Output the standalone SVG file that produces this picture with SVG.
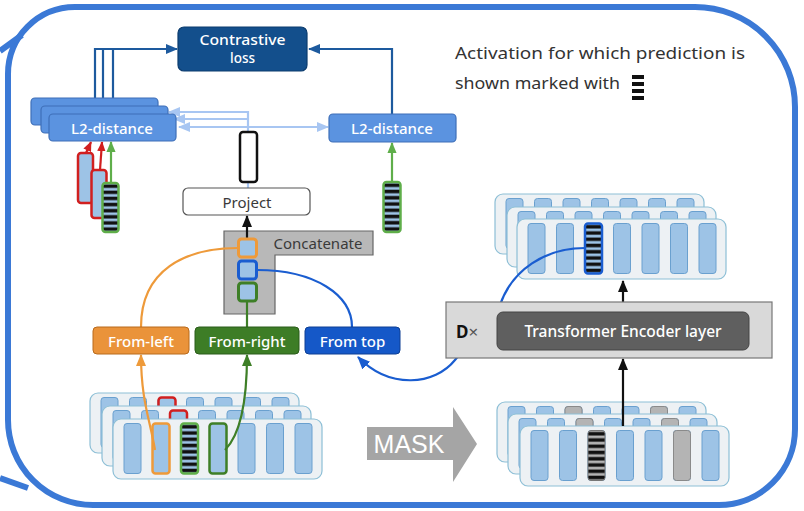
<svg xmlns="http://www.w3.org/2000/svg" xmlns:xlink="http://www.w3.org/1999/xlink" width="804" height="511" viewBox="0 0 804 511">
<style>
text{font-family:"Noto Sans","Liberation Sans",sans-serif;}
.wt{fill:#fff;font-size:15px;font-weight:500;text-anchor:middle;dominant-baseline:central;}
.dt{fill:#3a3a3a;font-size:15px;text-anchor:middle;dominant-baseline:central;}
.card{fill:#edf1f4;stroke:#8dbfd6;stroke-width:1.2;}
.bar{fill:#9dc3e6;stroke:#6aa0cf;stroke-width:1;}
.gbar{fill:#b4b4b4;stroke:#8a8a8a;stroke-width:1;}
.l2{fill:#5b93e0;stroke:#3e6fb8;stroke-width:1.2;}
.sq{fill:#9dc3e6;stroke-width:3;}
.c{fill:none;stroke-width:2.2;}
</style>
<defs>
<marker id="mDB" viewBox="0 0 12 10" refX="11" refY="5" markerWidth="12" markerHeight="10" markerUnits="userSpaceOnUse" orient="auto"><path d="M0,0L12,5L0,10z" fill="#1d5a9e"/></marker>
<marker id="mLB" viewBox="0 0 12 10" refX="11" refY="5" markerWidth="12" markerHeight="10" markerUnits="userSpaceOnUse" orient="auto"><path d="M0,0L12,5L0,10z" fill="#a8c6f2"/></marker>
<marker id="mK" viewBox="0 0 12 10" refX="11" refY="5" markerWidth="12" markerHeight="10" markerUnits="userSpaceOnUse" orient="auto"><path d="M0,0L12,5L0,10z" fill="#111"/></marker>
<marker id="mO" viewBox="0 0 12 10" refX="11" refY="5" markerWidth="12" markerHeight="10" markerUnits="userSpaceOnUse" orient="auto"><path d="M0,0L12,5L0,10z" fill="#ee9a3a"/></marker>
<marker id="mG" viewBox="0 0 12 10" refX="11" refY="5" markerWidth="12" markerHeight="10" markerUnits="userSpaceOnUse" orient="auto"><path d="M0,0L12,5L0,10z" fill="#3e7f27"/></marker>
<marker id="mLG" viewBox="0 0 12 10" refX="11" refY="5" markerWidth="11" markerHeight="10" markerUnits="userSpaceOnUse" orient="auto"><path d="M0,0L12,5L0,10z" fill="#5fae4a"/></marker>
<marker id="mR" viewBox="0 0 12 10" refX="11" refY="5" markerWidth="10" markerHeight="9" markerUnits="userSpaceOnUse" orient="auto"><path d="M0,0L12,5L0,10z" fill="#d11f1f"/></marker>
<marker id="mB" viewBox="0 0 12 10" refX="11" refY="5" markerWidth="13" markerHeight="11" markerUnits="userSpaceOnUse" orient="auto"><path d="M0,0L12,5L0,10z" fill="#1a5dd0"/></marker>
<pattern id="hatchB" patternUnits="objectBoundingBox" width="1" height="0.125" patternContentUnits="objectBoundingBox">
<rect width="1" height="0.125" fill="#9dc3e6"/><rect y="0.03" width="1" height="0.07" fill="#111"/>
</pattern>
<pattern id="hatchG" patternUnits="objectBoundingBox" width="1" height="0.125" patternContentUnits="objectBoundingBox">
<rect width="1" height="0.125" fill="#b4b4b4"/><rect y="0.03" width="1" height="0.07" fill="#111"/>
</pattern>
<g id="card">
<rect class="card" x="0" y="0" width="209" height="60" rx="8"/>
<rect class="bar" x="11" y="4.5" width="17" height="50" rx="3"/>
<rect class="bar" x="39.5" y="4.5" width="17" height="50" rx="3"/>
<rect class="bar" x="68" y="4.5" width="17" height="50" rx="3"/>
<rect class="bar" x="96.5" y="4.5" width="17" height="50" rx="3"/>
<rect class="bar" x="125" y="4.5" width="17" height="50" rx="3"/>
<rect class="bar" x="153.5" y="4.5" width="17" height="50" rx="3"/>
<rect class="bar" x="182" y="4.5" width="17" height="50" rx="3"/>
</g>
</defs>
<rect width="804" height="511" fill="#fff"/>

<g id="frame">
<path d="M75,7H695A100,100 0 0 1 795,107V429A76,76 0 0 1 719,505H93A85,85 0 0 1 8,420V74A67,67 0 0 1 75,7Z" fill="none" stroke="#3b79d6" stroke-width="6"/>
<line x1="0" y1="51" x2="22" y2="35" stroke="#3b79d6" stroke-width="6"/>
<line x1="0" y1="478" x2="28" y2="488" stroke="#3b79d6" stroke-width="6"/>
</g>

<g id="concatenate">
<path d="M224,231H373V255H275V314H224Z" fill="#b8b8b8" stroke="#666" stroke-width="1.2"/>
<text class="dt" x="318" y="243">Concatenate</text>
</g>

<g id="output-stack">
<use xlink:href="#card" x="495" y="194"/>
<use xlink:href="#card" x="507" y="207"/>
<use xlink:href="#card" x="517" y="219"/>
<rect x="585" y="223.5" width="17" height="50" rx="3" fill="url(#hatchB)" stroke="#1a5dd0" stroke-width="2.5"/>
</g>

<g id="input-stack">
<use xlink:href="#card" x="90" y="393"/>
<rect x="158.5" y="397.5" width="17" height="50" rx="3" class="sq" style="stroke:#d11f1f;stroke-width:2.5"/>
<use xlink:href="#card" x="102" y="406"/>
<rect x="170" y="410.5" width="17" height="50" rx="3" class="sq" style="stroke:#d11f1f;stroke-width:2.5"/>
<use xlink:href="#card" x="113" y="419"/>
<rect x="152.5" y="423.5" width="17" height="50" rx="3" class="sq" style="stroke:#ee9a3a;stroke-width:2.5"/>
<rect x="181" y="423.5" width="17" height="50" rx="3" fill="url(#hatchB)" stroke="#5fae4a" stroke-width="2.5"/>
<rect x="209.5" y="423.5" width="17" height="50" rx="3" class="sq" style="stroke:#3e7f27;stroke-width:2.5"/>
</g>

<g id="masked-stack">
<use xlink:href="#card" x="497" y="402"/>
<rect class="gbar" x="565" y="406.5" width="17" height="50" rx="3"/>
<rect class="gbar" x="650.5" y="406.5" width="17" height="50" rx="3"/>
<use xlink:href="#card" x="508" y="414"/>
<rect class="gbar" x="576" y="418.5" width="17" height="50" rx="3"/>
<rect class="gbar" x="661.5" y="418.5" width="17" height="50" rx="3"/>
<use xlink:href="#card" x="520" y="426"/>
<rect x="588" y="430.5" width="17" height="50" rx="3" fill="url(#hatchG)" stroke="#777" stroke-width="1"/>
<rect class="gbar" x="673.5" y="430.5" width="17" height="50" rx="3"/>
</g>

<g id="connectors">
<path class="c" d="M95,98V49H177" stroke="#1d5a9e" marker-end="url(#mDB)"/>
<path class="c" d="M103,98V49M113,98V49" stroke="#1d5a9e"/>
<path class="c" d="M392,114V49H309" stroke="#1d5a9e" marker-end="url(#mDB)"/>
<path class="c" d="M248,132V112H169" stroke="#a8c6f2" marker-end="url(#mLB)"/>
<path class="c" d="M248,119H174" stroke="#a8c6f2" marker-end="url(#mLB)"/>
<path class="c" d="M248,127H179" stroke="#a8c6f2" marker-end="url(#mLB)"/>
<path class="c" d="M248,127H328" stroke="#a8c6f2" marker-end="url(#mLB)"/>
<path class="c" d="M248,182V188" stroke="#a8c6f2"/>
<path class="c" d="M392,182V143" stroke="#5fae4a" marker-end="url(#mLG)"/>
<path class="c" d="M86,153L91,142" stroke="#d11f1f" marker-end="url(#mR)"/>
<path class="c" d="M100,170L102,142" stroke="#d11f1f" marker-end="url(#mR)"/>
<path class="c" d="M111,183V142" stroke="#5fae4a" marker-end="url(#mLG)"/>
<path class="c" d="M247,239V216" stroke="#111" marker-end="url(#mK)"/>
<path class="c" d="M141,327C141,270 185,248 238,248" stroke="#ee9a3a"/>
<path class="c" d="M247,327V302" stroke="#3e7f27"/>
<path class="c" d="M257,270C315,270 352,295 352,327" stroke="#1a5dd0"/>
<path class="c" d="M155,450C150,420 141,400 141,355" stroke="#ee9a3a" marker-end="url(#mO)"/>
<path class="c" d="M225,450C240,435 247,405 247,355" stroke="#3e7f27" marker-end="url(#mG)"/>
<path class="c" d="M585,248C545,248 512,270 500,305L455,360C435,385 390,390 358,357" stroke="#1a5dd0" marker-end="url(#mB)"/>
<path class="c" d="M623,426V359" stroke="#111" marker-end="url(#mK)"/>
<path class="c" d="M623,302V281" stroke="#111" marker-end="url(#mK)"/>
</g>

<g id="transformer">
<rect x="446" y="302" width="326" height="56" fill="#d9d9d9" stroke="#777" stroke-width="1.2"/>
<rect x="497" y="312" width="252" height="38" rx="6" fill="#5f5f5f" stroke="#444" stroke-width="1"/>
<text class="wt" x="623" y="331" style="font-size:15.5px">Transformer Encoder layer</text>
<text x="456" y="331" style="font-size:17px;dominant-baseline:central"><tspan font-weight="700" fill="#111">D</tspan><tspan fill="#555">×</tspan></text>
</g>

<g id="l2-stack">
<rect class="l2" x="31" y="98" width="127" height="27" rx="4"/>
<rect class="l2" x="41" y="106" width="127" height="27" rx="4"/>
<rect class="l2" x="49" y="114" width="127" height="27" rx="4"/>
<text class="wt" x="112" y="128">L2-distance</text>
</g>

<g id="l2-right">
<rect class="l2" x="329" y="114" width="127" height="28" rx="4"/>
<text class="wt" x="392" y="128">L2-distance</text>
</g>

<g id="contrastive-loss">
<rect x="178" y="27" width="129" height="44" rx="6" fill="#134f8c" stroke="#0c3c6e" stroke-width="1.2"/>
<text class="wt" x="242.5" y="40" textLength="86" lengthAdjust="spacingAndGlyphs" style="font-size:13.5px">Contrastive</text>
<text class="wt" x="242.5" y="58" style="font-size:13.5px">loss</text>
</g>

<g id="projected-vector">
<rect x="240" y="132" width="17" height="50" rx="3" fill="#fff" stroke="#111" stroke-width="2.5"/>
</g>

<g id="positive-vector">
<rect x="383.5" y="182" width="17" height="50" rx="3" fill="url(#hatchB)" stroke="#5fae4a" stroke-width="2.5"/>
</g>

<g id="negatives">
<rect x="78" y="153" width="15" height="50" rx="3" class="sq" style="stroke:#d11f1f;stroke-width:2.5"/>
<rect x="91.5" y="170" width="15" height="48" rx="3" class="sq" style="stroke:#d11f1f;stroke-width:2.5"/>
<rect x="102.5" y="183" width="16" height="49" rx="3" fill="url(#hatchB)" stroke="#5fae4a" stroke-width="2.5"/>
</g>

<g id="project">
<rect x="183" y="188" width="127" height="27" rx="5" fill="#fff" stroke="#555" stroke-width="1.2"/>
<text class="dt" x="247" y="202">Project</text>
</g>

<g id="concat-slots">
<rect x="238.5" y="239" width="18" height="18" rx="3" class="sq" style="stroke:#ee9a3a"/>
<rect x="238.5" y="261" width="18" height="18" rx="3" class="sq" style="stroke:#1a5dd0"/>
<rect x="238.5" y="283" width="18" height="18" rx="3" class="sq" style="stroke:#3e7f27"/>
</g>

<g id="from-left">
<rect x="93" y="327" width="96" height="27" rx="4" fill="#ea933a" stroke="#b86a1c" stroke-width="1"/>
<text class="wt" x="141" y="341">From-left</text>
</g>
<g id="from-right">
<rect x="195" y="327" width="104" height="27" rx="4" fill="#3d7d26" stroke="#2b5c1a" stroke-width="1"/>
<text class="wt" x="247" y="341">From-right</text>
</g>
<g id="from-top">
<rect x="305" y="327" width="95" height="27" rx="4" fill="#1558c8" stroke="#0e3f94" stroke-width="1"/>
<text class="wt" x="352.5" y="341">From top</text>
</g>

<g id="mask">
<path d="M367,427H453V407L477,444L453,482V460H367Z" fill="#a5a5a5"/>
<text x="409" y="444" style="font-family:'Liberation Sans',Arial,sans-serif;font-size:25px;fill:#fff;text-anchor:middle;dominant-baseline:central">MASK</text>
</g>

<g id="legend">
<text x="455" y="59" textLength="290" lengthAdjust="spacingAndGlyphs" style="font-size:17px;fill:#333">Activation for which prediction is</text>
<text x="455" y="89" textLength="165" lengthAdjust="spacingAndGlyphs" style="font-size:17px;fill:#333">shown marked with</text>
<rect x="632" y="75" width="12" height="4" fill="#111"/>
<rect x="632" y="82" width="12" height="4" fill="#111"/>
<rect x="632" y="89" width="12" height="4" fill="#111"/>
<rect x="632" y="96" width="12" height="4" fill="#111"/>
</g>
</svg>
